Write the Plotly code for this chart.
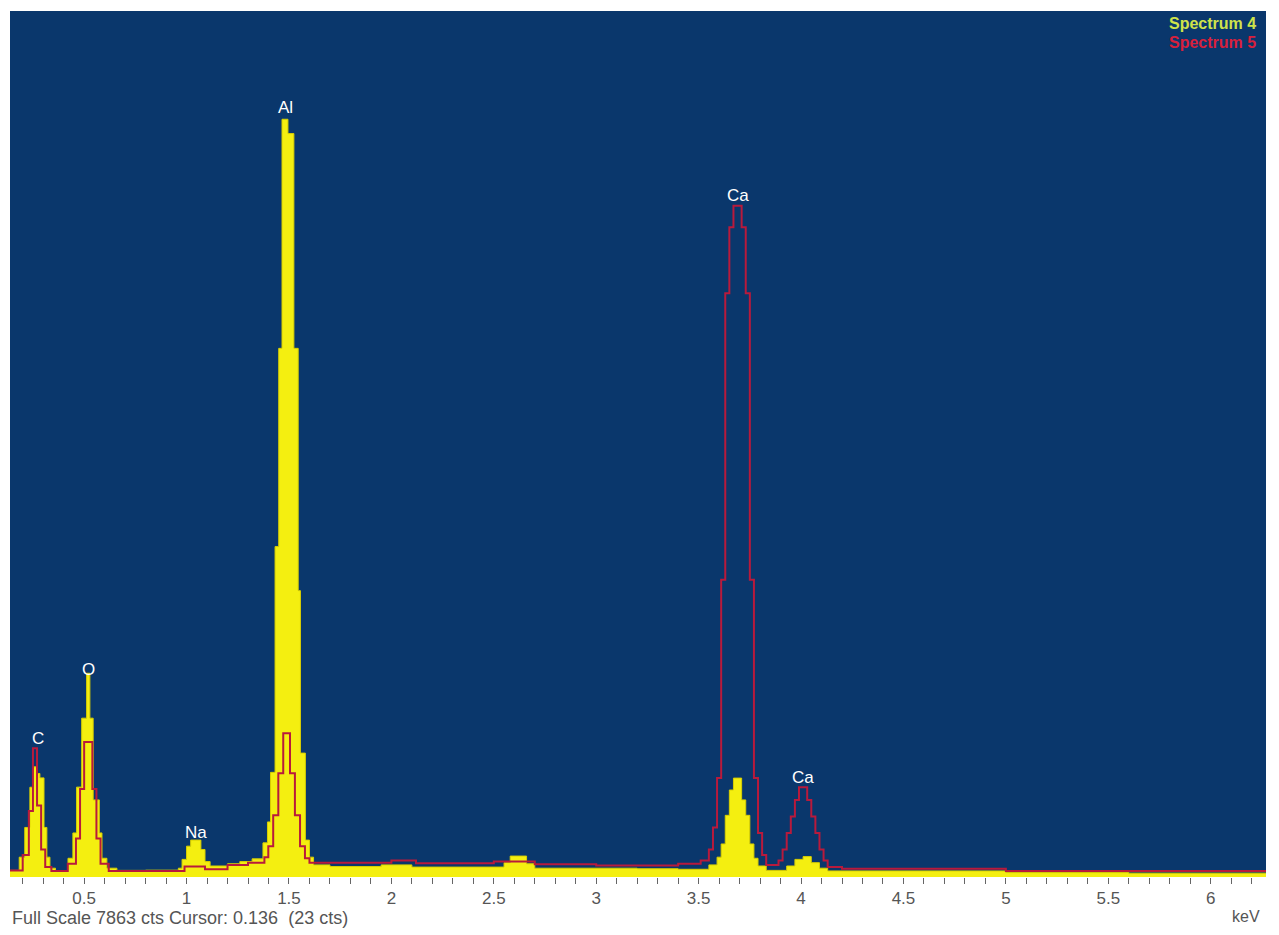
import plotly.graph_objects as go

# ---- data ----
# Spectrum 4: channel start energy (keV) and counts (step histogram)
spec4_energy = [0.138, 0.183, 0.21, 0.235, 0.25, 0.27, 0.284, 0.304, 0.318, 0.333,
                0.36, 0.421, 0.445, 0.463, 0.488, 0.512, 0.528, 0.544, 0.574, 0.587,
                0.611, 0.66, 0.8, 0.96, 0.978, 1.0, 1.02, 1.07, 1.09, 1.115,
                1.2, 1.26, 1.32, 1.373, 1.395, 1.41, 1.432, 1.45, 1.466, 1.495,
                1.524, 1.545, 1.556, 1.58, 1.60, 1.62, 1.7, 1.95, 2.1, 2.55,
                2.58, 2.66, 2.7, 3.2, 3.4, 3.55, 3.59, 3.61, 3.63, 3.65,
                3.67, 3.71, 3.73, 3.75, 3.77, 3.79, 3.83, 3.93, 3.97, 4.01,
                4.05, 4.09, 4.13, 5.0, 5.6, 6.27]
spec4_counts = [60, 180, 450, 815, 1000, 940, 900, 450, 180, 80,
                55, 170, 400, 816, 1442, 1850, 1442, 700, 400, 170,
                80, 60, 62, 80, 160, 280, 335, 250, 140, 100,
                120, 140, 165, 310, 500, 950, 3000, 4800, 6880, 6750,
                4800, 2600, 1125, 335, 180, 110, 95, 110, 90, 130,
                190, 120, 80, 75, 70, 110, 180, 300, 560, 790,
                898, 700, 560, 300, 170, 100, 60, 100, 160, 185,
                130, 80, 55, 40, 35, 35]

# Spectrum 5: channel start energy (keV) and counts
spec5_energy = [0.138, 0.20, 0.23, 0.25, 0.27, 0.29, 0.31, 0.34, 0.42, 0.46,
                0.48, 0.50, 0.54, 0.56, 0.58, 0.62, 0.99, 1.09, 1.2, 1.3,
                1.38, 1.399, 1.423, 1.448, 1.472, 1.505, 1.529, 1.554, 1.578, 1.60,
                2.0, 2.12, 2.5, 2.7, 3.0, 3.4, 3.51, 3.55, 3.57, 3.59,
                3.61, 3.63, 3.65, 3.67, 3.71, 3.73, 3.75, 3.77, 3.79, 3.81,
                3.83, 3.89, 3.91, 3.93, 3.95, 3.97, 3.99, 4.03, 4.05, 4.07,
                4.09, 4.11, 4.13, 4.2, 5.0, 6.27]
spec5_counts = [60, 200, 600, 1170, 650, 250, 90, 55, 120, 350,
                800, 1225, 800, 350, 120, 55, 95, 70, 110, 130,
                180, 280, 560, 943, 1306, 943, 560, 280, 170, 130,
                150, 125, 140, 115, 105, 120, 150, 250, 450, 900,
                2700, 5300, 5900, 6095, 5900, 5300, 2700, 900, 400, 200,
                110, 150, 250, 400, 550, 700, 816, 700, 550, 400,
                250, 150, 90, 75, 55, 55]

# element labels
element_names = ["C", "O", "Na", "Al", "Ca", "Ca"]
element_energy = [0.276, 0.5225, 1.045, 1.485, 3.69, 4.011]
element_counts = [1256, 1887, 408, 6991, 6190, 902]

tick_values = [0.5, 1, 1.5, 2, 2.5, 3, 3.5, 4, 4.5, 5, 5.5, 6]
tick_labels = ["0.5", "1", "1.5", "2", "2.5", "3", "3.5", "4", "4.5", "5", "5.5", "6"]

full_scale = 7863
x_range = [0.138, 6.27]

series_names = ["Spectrum 4", "Spectrum 5"]

# ---- figure ----
fig = go.Figure()
fig.add_trace(go.Scatter(
    x=spec4_energy, y=spec4_counts, mode="lines", line_shape="hv",
    fill="tozeroy", fillcolor="#f4ef10",
    line=dict(color="#d9cf00", width=1), name=series_names[0],
    hoverinfo="skip"))
fig.add_trace(go.Scatter(
    x=spec5_energy, y=spec5_counts, mode="lines", line_shape="hv",
    line=dict(color="#b81a3c", width=2), name=series_names[1],
    hoverinfo="skip"))

annotations = []
for name, e, c in zip(element_names, element_energy, element_counts):
    annotations.append(dict(x=e, y=c, xref="x", yref="y", text=name,
                            showarrow=False, xanchor="center", yanchor="middle",
                            font=dict(family="Liberation Sans, Arial", size=17,
                                      color="#ffffff")))

annotations += [
    dict(x=1, y=1, xref="paper", yref="paper", xanchor="right", yanchor="top",
         xshift=-8, yshift=-2, showarrow=False, text="<b>" + series_names[0] + "</b>",
         font=dict(family="Liberation Sans, Arial", size=16, color="#cfe34a")),
    dict(x=1, y=1, xref="paper", yref="paper", xanchor="right", yanchor="top",
         xshift=-8, yshift=-21, showarrow=False, text="<b>" + series_names[1] + "</b>",
         font=dict(family="Liberation Sans, Arial", size=16, color="#d8203c")),
    dict(x=0, y=0, xref="paper", yref="paper", xanchor="left", yanchor="top",
         xshift=0, yshift=-29, showarrow=False,
         text="Full Scale %d cts Cursor: 0.136&nbsp;&nbsp;(23 cts)" % full_scale,
         font=dict(family="Liberation Sans, Arial", size=18, color="#555555")),
    dict(x=1, y=0, xref="paper", yref="paper", xanchor="right", yanchor="top",
         xshift=-4, yshift=-29, showarrow=False, text="keV",
         font=dict(family="Liberation Sans, Arial", size=16, color="#555555")),
]

# page body has an 8px default margin: size the figure so the plot lands where it should
fig.update_layout(
    width=1263, height=927,
    margin=dict(l=2, r=5, t=3, b=58),
    paper_bgcolor="#ffffff", plot_bgcolor="#0a376c",
    showlegend=False,
    annotations=annotations,
    xaxis=dict(range=x_range, tickmode="array", tickvals=tick_values,
               ticktext=tick_labels, ticks="outside", ticklen=6, tickwidth=1,
               tickcolor="#666666", showgrid=False, zeroline=False,
               showline=False,
               tickfont=dict(family="Liberation Sans, Arial", size=17, color="#555555"),
               minor=dict(dtick=0.1, tick0=0, ticks="outside", ticklen=6,
                          tickwidth=1, tickcolor="#666666", showgrid=False)),
    yaxis=dict(range=[0, full_scale], showgrid=False, zeroline=False,
               showticklabels=False, ticks="", showline=False, fixedrange=True),
)

fig.write_html("out.html")
